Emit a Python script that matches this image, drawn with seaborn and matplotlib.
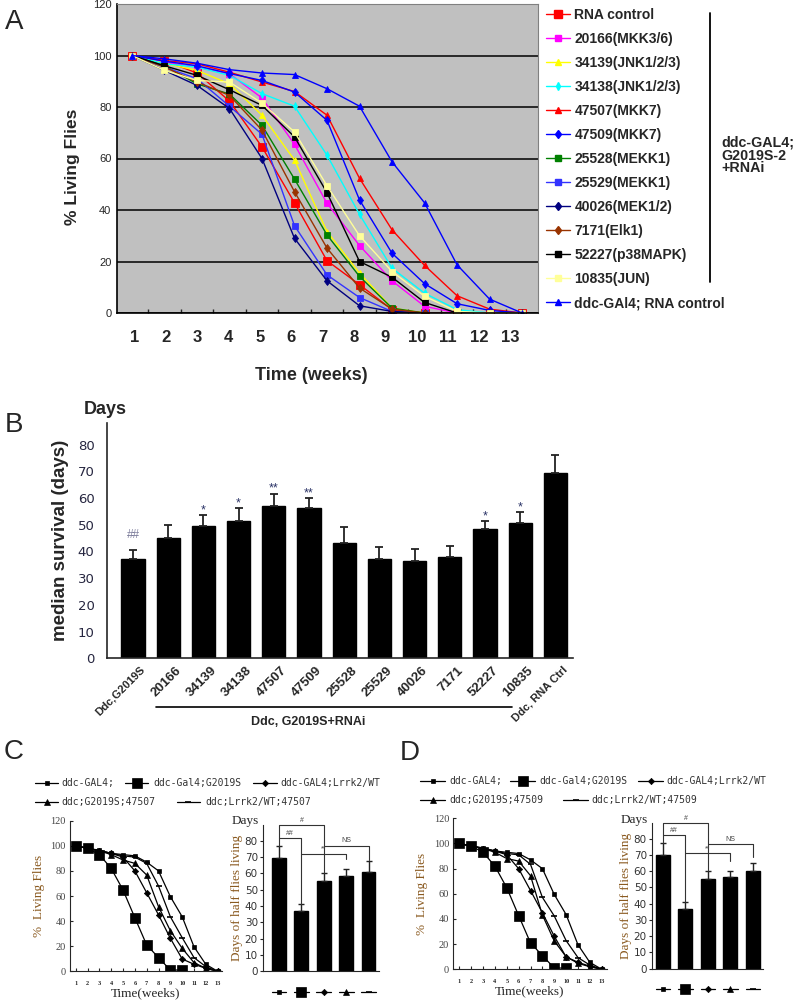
import numpy as np
import pandas as pd
import matplotlib
matplotlib.use("Agg")
import matplotlib.pyplot as plt
import seaborn as sns
from matplotlib.lines import Line2D
from matplotlib.transforms import blended_transform_factory, ScaledTranslation

sns.set_style("ticks")
plt.rcParams['font.family'] = ['Liberation Sans', 'DejaVu Sans']

W, H = 800, 1007
def fx(x):
    return x / W
def fy(y):
    return 1 - y / H

weeks = list(range(1, 14))

# ---------------- Panel A data ----------------
a_labels = ["RNA control", "20166(MKK3/6)", "34139(JNK1/2/3)", "34138(JNK1/2/3)",
            "47507(MKK7)", "47509(MKK7)", "25528(MEKK1)", "25529(MEKK1)",
            "40026(MEK1/2)", "7171(Elk1)", "52227(p38MAPK)", "10835(JUN)",
            "ddc-GAl4; RNA control"]
rna_control = [100, 98, 93.2, 82.3, 64.5, 42.8, 20.3, 11, 1.3, 0, 0, 0, 0]
s20166 = [100, 97.4, 95.5, 92.9, 83.5, 65.5, 42.6, 26.2, 12.5, 2.6, 0, 0, 0]
s34139 = [100, 97, 94.2, 89, 76.8, 59.4, 31.6, 15.5, 1.9, 0, 0, 0, 0]
s34138 = [100, 96.8, 95.5, 92.3, 85.2, 80.3, 61.3, 38.3, 17.4, 7.7, 1.3, 0, 0]
s47507 = [100, 98, 96.8, 93.5, 89.7, 86, 76.8, 52.3, 32.3, 18.5, 6.7, 1.5, 0]
s47509 = [100, 97.8, 96, 93, 90.3, 85.8, 74.8, 43.9, 23.2, 11.4, 3.6, 1, 0]
s25528 = [100, 96, 89, 85, 72.9, 52, 30.3, 14.2, 1.9, 0, 0, 0, 0]
s25529 = [100, 95.5, 91, 80.3, 69.4, 33.9, 14.8, 6, 0.6, 0, 0, 0, 0]
s40026 = [100, 94.2, 88.4, 79.4, 60, 29, 12.5, 2.8, 0.6, 0, 0, 0, 0]
s7171 = [100, 95.5, 89.7, 84.5, 71, 47.1, 25.2, 9.7, 1.5, 0, 0, 0, 0]
s52227 = [100, 96, 92.3, 86.7, 80.6, 68.4, 46.7, 20, 13.9, 4.1, 0, 0, 0]
s10835 = [100, 94.2, 90.3, 89.7, 81.5, 70.3, 49.4, 30, 16.1, 6.5, 0.6, 0, 0]
ddc_rna_ctrl = [100, 98.7, 97, 94.5, 93.2, 92.6, 87.1, 80.3, 58.7, 42.8, 18.7, 5.4, 0]
a_series = [rna_control, s20166, s34139, s34138, s47507, s47509, s25528, s25529,
            s40026, s7171, s52227, s10835, ddc_rna_ctrl]
a_group_text = ["ddc-GAL4;", "G2019S-2", "+RNAi"]

# ---------------- Panel B data ----------------
b_labels = ["Ddc,G2019S", "20166", "34139", "34138", "47507", "47509", "25528",
            "25529", "40026", "7171", "52227", "10835", "Ddc, RNA Ctrl"]
b_median = [37.1, 45, 49.7, 51.6, 57.2, 56.2, 43.2, 37.1, 36.6, 38, 48.4, 50.6, 69.4]
b_err = [3.6, 5.1, 4.0, 4.5, 4.5, 3.8, 5.9, 4.5, 4.4, 4.1, 3.0, 4.1, 6.8]
b_sig = ["##", "", "*", "*", "**", "**", "", "", "", "", "*", "*", ""]

# ---------------- Panels C / D data ----------------
cd_labels_c = ["ddc-GAL4;", "ddc-Gal4;G2019S", "ddc-GAL4;Lrrk2/WT",
               "ddc;G2019S;47507", "ddc;Lrrk2/WT;47507"]
cd_labels_d = ["ddc-GAL4;", "ddc-Gal4;G2019S", "ddc-GAL4;Lrrk2/WT",
               "ddc;G2019S;47509", "ddc;Lrrk2/WT;47509"]
c_gal4 = [100, 98, 96.5, 94, 93, 92, 87, 80, 59.5, 43.5, 19.5, 5.5, 0]
c_g2019s = [100, 98, 93, 82, 64.8, 42.7, 21, 10.9, 1, 1]
c_lrrk2wt = [100, 98, 96, 94, 91, 80, 62.6, 45, 26.3, 9.8, 5.6, 2.4, 0]
c_g47507 = [100, 98, 96, 93, 88.7, 86, 76.7, 51.5, 32.4, 18.3, 6.9, 2.4, 0]
c_wt47507 = [100, 98, 96, 94, 92, 91, 86, 68, 43.5, 26.8, 10.9, 3.7, 0]
d_g47509 = [100, 98, 96, 93, 88, 86, 74.4, 43.2, 22.5, 10, 4.8, 2, 0]
d_wt47509 = [100, 98, 96, 94, 92, 91, 83.4, 57.2, 42.4, 22.8, 9.3, 3.4, 0]

c_days = [69.6, 37.1, 55.1, 58.6, 60.6]
c_days_err = [7.1, 3.9, 4.9, 3.8, 7.2]
d_days = [69.9, 36.9, 55.2, 56.6, 59.9]
d_days_err = [7.2, 4.3, 4.7, 3.5, 5.3]

# brackets: (text, bar_i, bar_j, height, left leg bottom, right leg bottom)
c_brackets = [("##", 0, 1, 81.5, 77.0, 41.0), ("#", 0, 2, 89.5, 81.5, 60.0),
              ("**", 1, 3, 72.0, 72.0, 69.0), ("NS", 2, 4, 77.0, 77.0, 68.0)]
d_brackets = [("##", 0, 1, 82.3, 77.5, 41.2), ("#", 0, 2, 89.8, 82.3, 60.0),
              ("**", 1, 3, 71.0, 71.0, 66.0), ("NS", 2, 4, 76.7, 76.7, 69.0)]

# ---------------- styles ----------------
a_colors = ['#FF0000', '#FF00FF', '#FFFF00', '#00FFFF', '#FF0000', '#0000FF',
            '#008000', '#3333FF', '#000080', '#993300', '#000000', '#FFFF99', '#0000FF']
a_markers = ['s', 's', '^', 'd', '^', 'd', 's', 's', 'd', 'd', 's', 's', '^']
a_msize = [6, 4.2, 4.2, 4, 4.2, 4.5, 4.2, 4.2, 4.5, 4.5, 4.2, 4.2, 5]
cd_markers = ['s', 's', 'D', '^', '_']
cd_msize = [3.5, 6.5, 3.2, 4.2, 5]

fig = plt.figure(figsize=(8, 10.07), dpi=100)

# ======================= Panel A =======================
axA = fig.add_axes([fx(117), fy(313), fx(538) - fx(117), (313 - 4) / H])
axA.set_facecolor('#C0C0C0')
handles = []
for lab, vals, col, mk, ms in zip(a_labels, a_series, a_colors, a_markers, a_msize):
    sns.lineplot(x=weeks, y=vals, ax=axA, color=col, marker=mk, markersize=ms,
                 markeredgecolor=col, markeredgewidth=0.6, linewidth=1.0, legend=False)
    handles.append(Line2D([], [], color=col, marker=mk, markersize=ms,
                          markeredgecolor=col, linewidth=1.0))
axA.set_xlim(0.54, 13.49)
axA.set_ylim(0, 120)
axA.set_yticks(range(0, 121, 20))
axA.yaxis.grid(True, color='black', linewidth=1.1)
axA.set_axisbelow(True)
axA.tick_params(axis='y', length=0, labelsize=8, pad=4)
axA.set_xticks([i + 0.5 for i in range(1, 13)])
axA.set_xticklabels([])
axA.tick_params(axis='x', which='major', direction='in', length=3, width=1)
lab_pos = np.linspace(1.09, 12.65, 13)
axA.set_xticks(lab_pos, minor=True)
axA.set_xticklabels([str(w) for w in weeks], minor=True, fontsize=12, fontweight='bold')
axA.tick_params(axis='x', which='minor', length=0, pad=12)
for s in ['left', 'bottom']:
    axA.spines[s].set_color('black')
    axA.spines[s].set_linewidth(1.2)
for s in ['top', 'right']:
    axA.spines[s].set_color('#808080')
axA.set_xlabel("")
axA.set_ylabel("")
fig.text(fx(311), fy(375), "Time (weeks)", ha='center', va='center', fontsize=13, fontweight='bold')
fig.text(fx(72), fy(167), "% Living Flies", ha='center', va='center', rotation=90,
         fontsize=12.5, fontweight='bold')
fig.text(fx(14), fy(22), "A", ha='center', va='center', fontsize=20)

fig.legend(handles, a_labels, loc='upper left', bbox_to_anchor=(fx(546), fy(8)),
           frameon=False, prop={'weight': 'bold', 'size': 10}, labelspacing=0.72,
           handlelength=1.75, handletextpad=0.3, borderpad=0, borderaxespad=0)
fig.add_artist(Line2D([fx(710), fx(710)], [fy(12.7), fy(281.7)], color='black',
                      linewidth=1.3, transform=fig.transFigure))
for t, yy in zip(a_group_text, [142.3, 155.5, 168]):
    fig.text(fx(721), fy(yy), t, ha='left', va='center', fontsize=10.3, fontweight='bold')

# ======================= Panel B =======================
axB = fig.add_axes([fx(107), fy(658.3), fx(573) - fx(107), (658.3 - 423.3) / H])
dfB = pd.DataFrame({"strain": b_labels, "median": b_median})
sns.barplot(data=dfB, x="strain", y="median", order=b_labels, color='black',
            edgecolor='black', width=0.66, ax=axB, saturation=1)
xb = np.arange(len(b_labels))
axB.errorbar(xb, b_median, yerr=[np.zeros(len(b_err)), b_err], fmt='none',
             ecolor='#222222', elinewidth=1.3, capsize=3.2, capthick=1.3)
axB.set_xlim(-0.74, 12.5)
axB.set_ylim(0, 88)
axB.set_yticks(range(0, 81, 10))
axB.tick_params(axis='y', length=0, pad=9)
for lbl in axB.get_yticklabels():
    lbl.set_fontfamily('DejaVu Sans')
    lbl.set_fontsize(9.5)
    lbl.set_color('#262640')
axB.tick_params(axis='x', length=0, pad=3)
axB.set_xticks(xb)
axB.set_xticklabels(b_labels, rotation=45, ha='right', rotation_mode='anchor',
                    fontweight='bold', fontsize=9.5)
shift = ScaledTranslation(7 / 100, -2 / 100, fig.dpi_scale_trans)
for i, lbl in enumerate(axB.get_xticklabels()):
    lbl.set_transform(lbl.get_transform() + shift)
    if i in (0, len(b_labels) - 1):
        lbl.set_fontsize(8)
sns.despine(ax=axB)
axB.spines['left'].set_linewidth(1.2)
axB.spines['bottom'].set_linewidth(1.2)
axB.set_xlabel("")
axB.set_ylabel("median survival (days)", fontsize=13.5, fontweight='bold', labelpad=6)
for i, s in enumerate(b_sig):
    if not s:
        continue
    top = b_median[i] + b_err[i]
    if s.startswith('#'):
        axB.text(i, top + 4.2, s, ha='center', va='baseline', fontsize=8.5, color='#7a7a99')
    else:
        axB.text(i, top + 0.6, s, ha='center', va='baseline', fontsize=9, color='#2a3366')
fig.text(fx(105), fy(410), "Days", ha='center', va='center', fontsize=13, fontweight='bold')
fig.text(fx(14), fy(425), "B", ha='center', va='center', fontsize=20)
fig.add_artist(Line2D([fx(156), fx(512)], [fy(706.7), fy(706.7)], color='black',
                      linewidth=1.2, transform=fig.transFigure))
fig.text(fx(308), fy(721.7), "Ddc, G2019S+RNAi", ha='center', va='center',
         fontsize=9, fontweight='bold')

# ======================= Panels C / D =======================
serif = ['Liberation Serif', 'DejaVu Serif']
mono = ['DejaVu Sans Mono']
brown = '#8a5a20'


def line_panel(rect, curves, xlim):
    ax = fig.add_axes(rect)
    for vals, mk, ms in zip(curves, cd_markers, cd_msize):
        sns.lineplot(x=weeks[:len(vals)], y=vals, ax=ax, color='black', marker=mk,
                     markersize=ms, markeredgecolor='black', markeredgewidth=1.2 if mk == '_' else 0.5,
                     linewidth=0.9, legend=False)
    ax.set_xlim(*xlim)
    ax.set_ylim(0, 120)
    ax.set_yticks(range(0, 121, 20))
    ax.set_xticks(weeks)
    ax.set_xticklabels([str(w) for w in weeks], fontsize=4.5, fontweight='bold',
                       fontfamily=serif)
    for lbl in ax.get_yticklabels():
        lbl.set_fontfamily(serif)
        lbl.set_fontsize(7.5)
        lbl.set_color('#444444')
    ax.tick_params(axis='both', direction='in', length=2, width=0.8, pad=3)
    ax.tick_params(axis='x', pad=7)
    sns.despine(ax=ax)
    ax.set_xlabel("Time(weeks)", fontsize=9.5, fontfamily=serif, labelpad=1)
    ax.set_ylabel("%  Living Flies", fontsize=9.5, fontfamily=serif, color=brown, labelpad=4)
    return ax


def bar_panel(rect, days, errs, brackets, xlim):
    ax = fig.add_axes(rect)
    names = [str(i) for i in range(len(days))]
    sns.barplot(x=names, y=days, order=names, color='black', edgecolor='black',
                width=0.62, ax=ax, saturation=1)
    xs = np.arange(len(days))
    ax.errorbar(xs, days, yerr=[np.zeros(len(errs)), errs], fmt='none',
                ecolor='#222222', elinewidth=1.0, capsize=2.3, capthick=1.0)
    ax.set_xlim(*xlim)
    ax.set_ylim(0, 89.5)
    ax.set_yticks(range(0, 81, 10))
    ax.set_xticks([])
    for lbl in ax.get_yticklabels():
        lbl.set_fontfamily('DejaVu Sans')
        lbl.set_fontsize(7.5)
        lbl.set_color('#333333')
    ax.tick_params(axis='y', length=2, width=0.8, pad=1.5)
    sns.despine(ax=ax)
    ax.set_xlabel("")
    ax.set_ylabel("Days of half flies living", fontsize=9.5, fontfamily=serif,
                  color=brown, labelpad=1)
    ax.text(-0.03, 1.025, "Days", transform=ax.transAxes, ha='right', va='center',
            fontsize=9.5, fontfamily=serif)
    for txt, i, j, h, lb, rb in brackets:
        ax.plot([i, i, j, j], [lb, h, h, rb], color='#333333', linewidth=0.8, clip_on=False)
        ax.text((i + j) / 2, h + 0.8, txt, ha='center', va='bottom', fontsize=5,
                color='#444444')
    trans = blended_transform_factory(ax.transData, ax.transAxes)
    for k, (mk, ms) in enumerate(zip(cd_markers, cd_msize)):
        ax.plot([k - 0.33, k, k + 0.33], [-0.14] * 3, color='black', linewidth=0.9,
                marker=mk, markersize=ms, markevery=[1],
                markeredgewidth=1.2 if mk == '_' else 0.5,
                transform=trans, clip_on=False)
    return ax


def cd_legend(row_y, items, labels):
    for (x0, x1, tx, row), lab, mk, ms in zip(items, labels, cd_markers, cd_msize):
        y = row_y[row]
        fig.add_artist(Line2D([fx(x0), fx((x0 + x1) / 2), fx(x1)], [fy(y)] * 3,
                              color='black', linewidth=0.9, marker=mk, markersize=ms,
                              markevery=[1], markeredgewidth=1.2 if mk == '_' else 0.5,
                              transform=fig.transFigure))
        fig.text(fx(tx), fy(y), lab, ha='left', va='center', fontsize=7,
                 fontfamily=mono, color='#333333')


# Panel C
line_panel([fx(70), fy(971.3), fx(221.7) - fx(70), (971.3 - 820.7) / H],
           [c_gal4, c_g2019s, c_lrrk2wt, c_g47507, c_wt47507], (0.52, 13.34))
bar_panel([fx(262.7), fy(971.3), fx(379.3) - fx(262.7), (971.3 - 825.1) / H],
          c_days, c_days_err, c_brackets, (-0.73, 4.48))
cd_legend([783.3, 802.3],
          [(35, 58, 61.7, 0), (125, 148, 153.3, 0), (252.7, 276.7, 280.7, 0),
           (35, 58, 61.7, 1), (176.7, 200, 205, 1)], cd_labels_c)
fig.text(fx(14), fy(752), "C", ha='center', va='center', fontsize=20)

# Panel D
line_panel([fx(453.3), fy(969.3), fx(606.7) - fx(453.3), (969.3 - 818.3) / H],
           [c_gal4, c_g2019s, c_lrrk2wt, d_g47509, d_wt47509], (0.495, 13.42))
bar_panel([fx(651.7), fy(968.7), fx(763.3) - fx(651.7), (968.7 - 823.3) / H],
          d_days, d_days_err, d_brackets, (-0.5, 4.46))
cd_legend([781, 800],
          [(420, 445, 449.3, 0), (510, 535, 539.3, 0), (638.3, 663.3, 666.7, 0),
           (420, 445, 449.3, 1), (563.3, 588.3, 591.7, 1)], cd_labels_d)
fig.text(fx(410), fy(753), "D", ha='center', va='center', fontsize=20)

fig.savefig("out.png", dpi=100)
